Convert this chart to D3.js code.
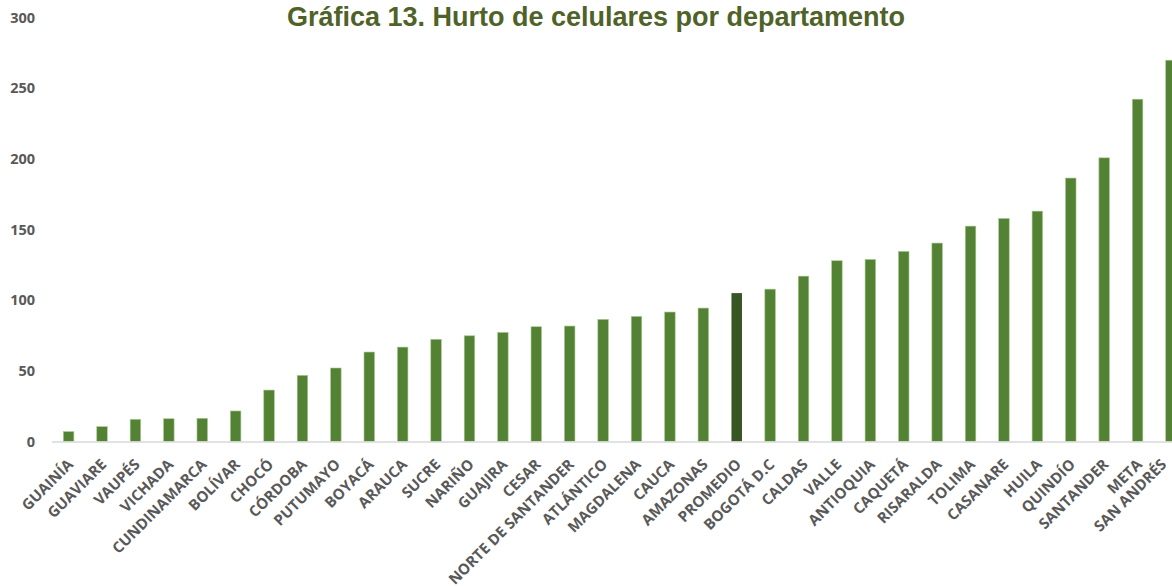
<!DOCTYPE html>
<html>
<head>
<meta charset="utf-8">
<script src="https://cdn.jsdelivr.net/npm/d3@7"></script>
<style>
  body { margin: 0; background: #fff; }
  svg { display: block; }
  .tick text { font-family: "Open Sans", sans-serif; font-weight: bold; fill: #595959; }
</style>
</head>
<body>
<svg width="1172" height="587"></svg>
<script>
var departamentos = ["GUAINÍA","GUAVIARE","VAUPÉS","VICHADA","CUNDINAMARCA","BOLÍVAR","CHOCÓ","CÓRDOBA",
  "PUTUMAYO","BOYACÁ","ARAUCA","SUCRE","NARIÑO","GUAJIRA","CESAR","NORTE DE SANTANDER","ATLÁNTICO",
  "MAGDALENA","CAUCA","AMAZONAS","PROMEDIO","BOGOTÁ D.C","CALDAS","VALLE","ANTIOQUIA","CAQUETÁ",
  "RISARALDA","TOLIMA","CASANARE","HUILA","QUINDÍO","SANTANDER","META","SAN ANDRÉS"];
var hurtos = [7, 10.5, 15.7, 16.1, 16.4, 21.6, 36.4, 46.8, 52, 63.3, 66.8, 72.3, 74.8, 77.2, 81.2, 81.7, 86.4,
  88.5, 91.6, 94.4, 105, 107.8, 117, 127.9, 128.8, 134.5, 140.4, 152.4, 157.8, 163, 186.4, 200.7, 242.2, 269.8];
var yTicks = [0, 50, 100, 150, 200, 250, 300];

var svg = d3.select("svg");

var x0 = 52, x1 = 52 + 34 * 33.4,
    yBase = 441.5, yTop = 17.5;

var xScale = d3.scaleBand().domain(departamentos).range([x0, x1]).paddingInner(0.685).paddingOuter(0.34),
    yScale = d3.scaleLinear().domain([0, 300]).range([yBase, yTop]);

// titulo
svg.append("text")
   .attr("x", 596)
   .attr("y", 26)
   .attr("text-anchor", "middle")
   .attr("font-family", "Liberation Sans, Arial, sans-serif")
   .attr("font-weight", "bold")
   .attr("font-size", 27)
   .attr("fill", "#4f6228")
   .text("Gráfica 13. Hurto de celulares por departamento");

// eje y (solo etiquetas)
var yAxis = svg.append("g")
   .attr("transform", "translate(35,0)")
   .call(d3.axisLeft(yScale).tickValues(yTicks).tickSize(0).tickPadding(0));
yAxis.select(".domain").remove();
yAxis.selectAll("text").attr("font-size", 14.5);

// barras
svg.selectAll(".bar")
   .data(hurtos)
   .enter().append("rect")
   .attr("class", "bar")
   .attr("x", function(d, i) { return xScale(departamentos[i]); })
   .attr("y", function(d) { return yScale(d); })
   .attr("width", xScale.bandwidth())
   .attr("height", function(d) { return yBase - yScale(d); })
   .attr("fill", function(d, i) { return departamentos[i] == "PROMEDIO" ? "#375623" : "#548235"; })
   .attr("stroke", function(d, i) { return departamentos[i] == "PROMEDIO" ? "none" : "#a9c98f"; })
   .attr("stroke-width", 0.6);

// linea base
svg.append("line")
   .attr("x1", x0).attr("x2", 1172)
   .attr("y1", yBase + 0.5).attr("y2", yBase + 0.5)
   .attr("stroke", "#d9d9d9")
   .attr("stroke-width", 1.5);

// etiquetas de categoria (la ultima un poco a la izquierda para que no se corte)
svg.append("g").selectAll("text")
   .data(departamentos)
   .enter().append("text")
   .attr("transform", function(d, i) {
     var cx = xScale(d) + xScale.bandwidth() / 2 - 2;
     if (i == departamentos.length - 1) cx = Math.min(cx, 1160);
     return "translate(" + cx + "," + 458 + ") rotate(-45)";
   })
   .attr("text-anchor", "end")
   .attr("dy", "0.7em")
   .attr("font-family", "Open Sans, sans-serif")
   .attr("font-weight", "bold")
   .attr("font-size", 15)
   .attr("fill", "#595959")
   .text(function(d) { return d; });
</script>
</body>
</html>
